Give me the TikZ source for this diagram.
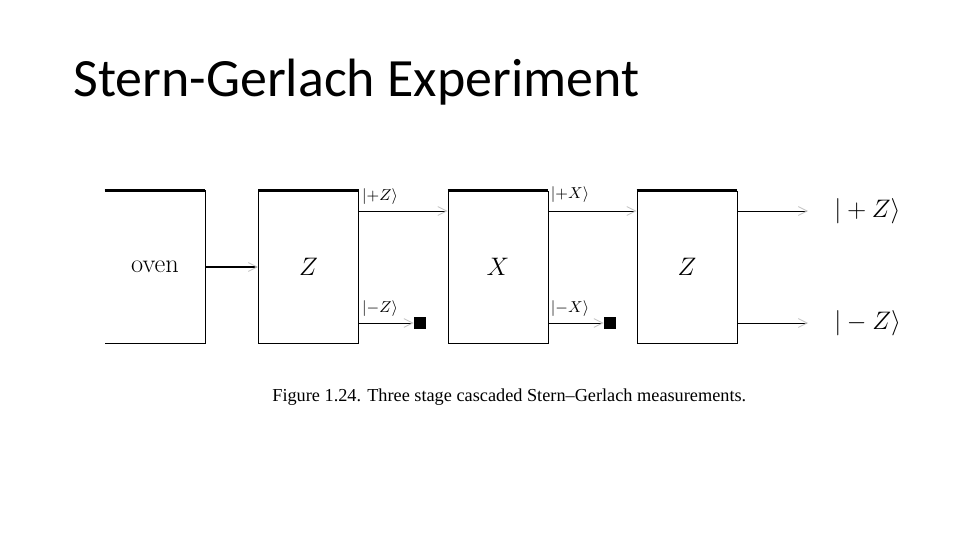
\documentclass[tikz,border=0pt]{standalone}
\usepackage{fontspec}
\newfontfamily\titlefont{Carlito}
\newfontfamily\capfont[Ligatures=TeX]{Liberation Serif}
\usetikzlibrary{arrows.meta,positioning}

\begin{document}
\begin{tikzpicture}[x=0.02cm, y=-0.02cm,
    stage/.style={draw, line width=0.5pt, minimum width=2cm, minimum height=3.04cm,
                  inner sep=0pt, font=\fontsize{15}{18}\selectfont},
    beam/.style={line width=0.5pt, -{Straight Barb[length=5pt, width=5pt, line width=0.5pt, color=gray!45]}},
    ket/.style={font=\fontsize{9}{11}\selectfont, inner sep=1pt},
    bigket/.style={font=\fontsize{15}{18}\selectfont, anchor=west, inner sep=0pt},
    blocker/.style={fill=black, minimum size=0.24cm, inner sep=0pt},
  ]
  \useasboundingbox (0,0) rectangle (960,540);

  % title
  \node[anchor=base west, inner sep=0pt, font=\titlefont\fontsize{30.7}{36}\selectfont]
    (title) at (73,97) {Stern-Gerlach Experiment};

  % beam heights
  \coordinate (up) at (0,211);
  \coordinate (dn) at (0,323);

  % oven and the three stages
  \node[stage, draw=none] (oven) at (155,267) {oven};
  \node[stage] (z1) at (308.5,267) {$Z$};
  \node[stage] (x2) at (498,267) {$X$};
  \node[stage] (z3) at (687,267) {$Z$};

  \draw[line width=0.5pt] (oven.north west) -- (oven.north east)
    -- (oven.south east) -- (oven.south west);
  \foreach \s in {oven,z1,x2,z3}
    \draw[line width=1.4pt] (\s.north west) -- (\s.north east);

  % blockers
  \node[blocker] (b1) at (420,323) {};
  \node[blocker] (b2) at (610,323) {};

  % beams
  \draw[beam, line width=1.6pt] (oven.east) -- (z1.west);
  \draw[beam] (z1.east |- up) -- (x2.west |- up);
  \draw[beam] (z1.east |- dn) -- (b1.west);
  \draw[beam] (x2.east |- up) -- (z3.west |- up);
  \draw[beam] (x2.east |- dn) -- (b2.west);

  \coordinate (o1) at (808,211);
  \coordinate (o2) at (808,323);
  \draw[beam] (z3.east |- up) -- (o1);
  \draw[beam] (z3.east |- dn) -- (o2);

  % kets
  \node[ket] (kz1) at (380,197) {$|{+}Z\rangle$};
  \node[ket] (kz2) at (380,309) {$|{-}Z\rangle$};
  \node[ket] (kx1) at (570,195) {$|{+}X\rangle$};
  \node[ket] (kx2) at (570,309) {$|{-}X\rangle$};
  \node[bigket] (kp) at (834,211) {$|+Z\rangle$};
  \node[bigket] (km) at (834,323) {$|-Z\rangle$};

  % caption
  \node[anchor=base west, inner sep=0pt, font=\capfont\fontsize{10.4}{12}\selectfont]
    (cap) at (272,401) {Figure 1.24. Three stage cascaded Stern--Gerlach measurements.};
\end{tikzpicture}
\end{document}
